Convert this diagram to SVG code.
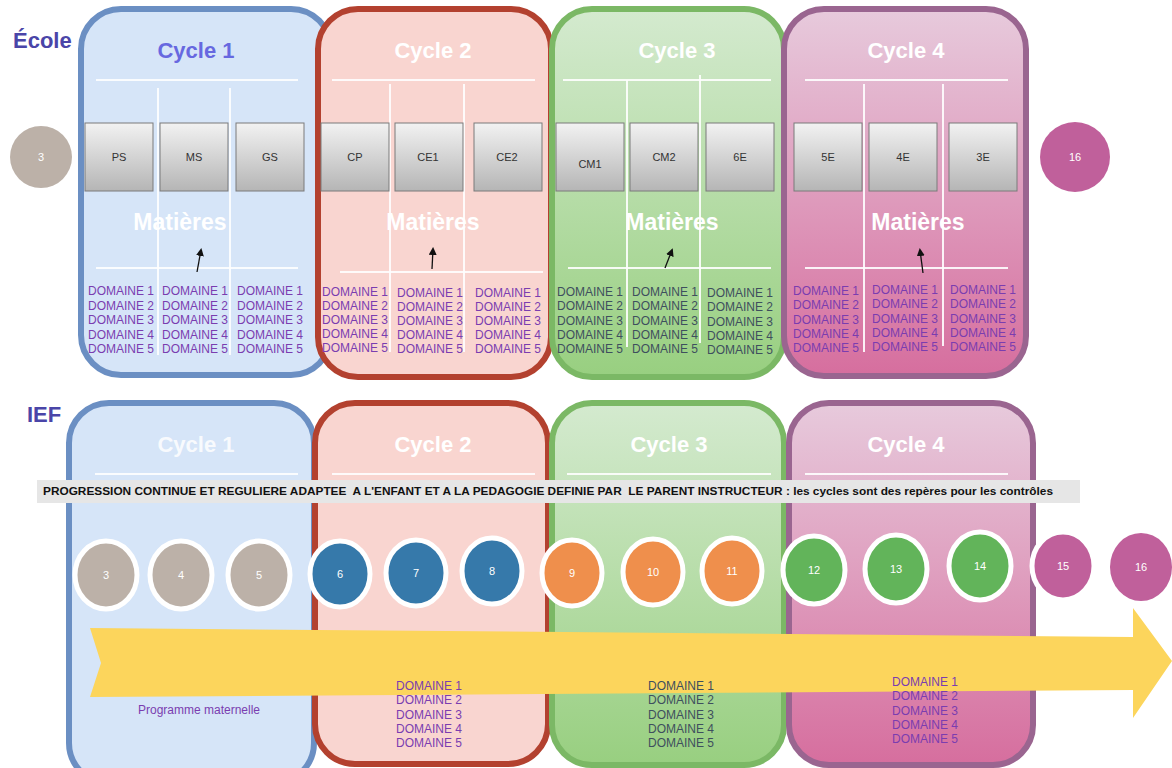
<svg xmlns="http://www.w3.org/2000/svg" width="1172" height="768" viewBox="0 0 1172 768">
<defs>
<linearGradient id="gbox" x1="0" y1="0" x2="0" y2="1"><stop offset="0" stop-color="#f2f2f2"/><stop offset="1" stop-color="#b5b5b5"/></linearGradient>
<linearGradient id="g3" x1="0" y1="0" x2="0" y2="1"><stop offset="0" stop-color="#d4eacf"/><stop offset="1" stop-color="#98cf80"/></linearGradient>
<linearGradient id="g4" x1="0" y1="0" x2="0" y2="1"><stop offset="0" stop-color="#e7cadc"/><stop offset="1" stop-color="#d66e9e"/></linearGradient>
<marker id="ah" markerWidth="8" markerHeight="8" refX="6" refY="4" orient="auto" markerUnits="userSpaceOnUse"><path d="M0,0 L8,4 L0,8 Z" fill="#111"/></marker>
<style>
.p1{fill:#d6e5f8;stroke:#6b8fc3;stroke-width:6}
.p2{fill:#f9d5d0;stroke:#b3412f;stroke-width:6}
.p3{fill:url(#g3);stroke:#7bb865;stroke-width:6}
.p4{fill:url(#g4);stroke:#9a6590;stroke-width:6}
.wl{stroke:#ffffff;stroke-width:2;opacity:0.9}
.title{font-family:"Liberation Sans",Arial,sans-serif;font-weight:bold;font-size:22px;fill:#ffffff;text-anchor:middle}
.mat{font-family:"Liberation Sans",Arial,sans-serif;font-weight:bold;font-size:23px;fill:#ffffff;text-anchor:middle}
.box{fill:url(#gbox);stroke:#7a7a7a;stroke-width:1}
.bt{font-family:"Liberation Sans",Arial,sans-serif;font-size:11px;fill:#333;text-anchor:middle}
.dom{font-family:"Liberation Sans",Arial,sans-serif;font-size:12px;fill:#7a3db0}
.domg{font-family:"Liberation Sans",Arial,sans-serif;font-size:12px;fill:#3e4f5e}
.ct{font-family:"Liberation Sans",Arial,sans-serif;font-size:11px;fill:#ffffff;text-anchor:middle}
.lab{font-family:"Liberation Sans",Arial,sans-serif;font-weight:bold;font-size:22px;fill:#4a45a8}
.arr{stroke:#111;stroke-width:1.3;fill:none;marker-end:url(#ah)}
.cw{stroke:#ffffff;stroke-width:5}
</style>
</defs>
<rect width="1172" height="768" fill="#ffffff"/>

<text class="lab" x="13" y="48">École</text>
<text class="lab" x="27" y="422">IEF</text>

<!-- TOP ROW -->
<g id="ecole-cycle1">
<rect class="p1" x="81" y="9" width="250" height="366" rx="40"/>
<text class="title" x="196" y="58" style="fill:#6768e0">Cycle 1</text>
<line class="wl" x1="96" y1="80" x2="298" y2="80"/>
<line class="wl" x1="158" y1="88" x2="158" y2="355"/>
<line class="wl" x1="230" y1="88" x2="230" y2="355"/>
<line class="wl" x1="96" y1="268" x2="298" y2="268"/>
<text class="mat" x="180" y="230">Matières</text>
<line class="arr" x1="197" y1="272" x2="201" y2="250"/>
</g>
<g id="ecole-cycle2">
<rect class="p2" x="318" y="9" width="233" height="368" rx="40"/>
<text class="title" x="433" y="58">Cycle 2</text>
<line class="wl" x1="332" y1="80" x2="535" y2="80"/>
<line class="wl" x1="390" y1="84" x2="390" y2="352"/>
<line class="wl" x1="464" y1="84" x2="464" y2="352"/>
<line class="wl" x1="340" y1="272" x2="543" y2="272"/>
<text class="mat" x="433" y="230">Matières</text>
<line class="arr" x1="432" y1="269" x2="433" y2="249"/>
</g>
<g id="ecole-cycle3">
<rect class="p3" x="552" y="9" width="232" height="368" rx="40"/>
<text class="title" x="677" y="58">Cycle 3</text>
<line class="wl" x1="563" y1="80" x2="771" y2="80"/>
<line class="wl" x1="627" y1="80" x2="627" y2="347"/>
<line class="wl" x1="700" y1="75" x2="700" y2="343"/>
<line class="wl" x1="568" y1="268" x2="771" y2="268"/>
<text class="mat" x="672" y="230">Matières</text>
<line class="arr" x1="665" y1="268" x2="672" y2="250"/>
</g>
<g id="ecole-cycle4">
<rect class="p4" x="784" y="9" width="242" height="367" rx="40"/>
<text class="title" x="906" y="58">Cycle 4</text>
<line class="wl" x1="805" y1="80" x2="1008" y2="80"/>
<line class="wl" x1="864" y1="84" x2="864" y2="352"/>
<line class="wl" x1="943" y1="84" x2="943" y2="346"/>
<line class="wl" x1="805" y1="268" x2="1008" y2="268"/>
<text class="mat" x="918" y="230">Matières</text>
<line class="arr" x1="923" y1="273" x2="920" y2="250"/>
</g>

<!-- grade boxes -->
<g id="PS"><rect class="box" x="85" y="123" width="68" height="68"/><text class="bt" x="119" y="161">PS</text></g>
<g id="MS"><rect class="box" x="160" y="123" width="68" height="68"/><text class="bt" x="194" y="161">MS</text></g>
<g id="GS"><rect class="box" x="236" y="123" width="68" height="68"/><text class="bt" x="270" y="161">GS</text></g>
<g id="CP"><rect class="box" x="321" y="123" width="68" height="68"/><text class="bt" x="355" y="161">CP</text></g>
<g id="CE1"><rect class="box" x="395" y="123" width="68" height="68"/><text class="bt" x="428" y="161">CE1</text></g>
<g id="CE2"><rect class="box" x="474" y="123" width="68" height="68"/><text class="bt" x="507" y="161">CE2</text></g>
<g id="CM1"><rect class="box" x="556" y="123" width="68" height="68"/><text class="bt" x="590" y="168">CM1</text></g>
<g id="CM2"><rect class="box" x="630" y="123" width="68" height="68"/><text class="bt" x="664" y="161">CM2</text></g>
<g id="6E"><rect class="box" x="706" y="123" width="68" height="68"/><text class="bt" x="740" y="161">6E</text></g>
<g id="5E"><rect class="box" x="794" y="123" width="68" height="68"/><text class="bt" x="828" y="161">5E</text></g>
<g id="4E"><rect class="box" x="869" y="123" width="68" height="68"/><text class="bt" x="903" y="161">4E</text></g>
<g id="3E"><rect class="box" x="949" y="123" width="68" height="68"/><text class="bt" x="983" y="161">3E</text></g>

<!-- domain lists top -->
<g id="dom-c1">
<text class="dom" x="88" y="295"><tspan x="88" dy="0">DOMAINE 1</tspan><tspan x="88" dy="14.5">DOMAINE 2</tspan><tspan x="88" dy="14.5">DOMAINE 3</tspan><tspan x="88" dy="14.5">DOMAINE 4</tspan><tspan x="88" dy="14.5">DOMAINE 5</tspan></text>
<text class="dom" x="162" y="295"><tspan x="162" dy="0">DOMAINE 1</tspan><tspan x="162" dy="14.5">DOMAINE 2</tspan><tspan x="162" dy="14.5">DOMAINE 3</tspan><tspan x="162" dy="14.5">DOMAINE 4</tspan><tspan x="162" dy="14.5">DOMAINE 5</tspan></text>
<text class="dom" x="237" y="295"><tspan x="237" dy="0">DOMAINE 1</tspan><tspan x="237" dy="14.5">DOMAINE 2</tspan><tspan x="237" dy="14.5">DOMAINE 3</tspan><tspan x="237" dy="14.5">DOMAINE 4</tspan><tspan x="237" dy="14.5">DOMAINE 5</tspan></text>
</g>
<g id="dom-c2">
<text class="dom" x="322" y="296"><tspan x="322" dy="0">DOMAINE 1</tspan><tspan x="322" dy="14">DOMAINE 2</tspan><tspan x="322" dy="14">DOMAINE 3</tspan><tspan x="322" dy="14">DOMAINE 4</tspan><tspan x="322" dy="14">DOMAINE 5</tspan></text>
<text class="dom" x="397" y="297"><tspan x="397" dy="0">DOMAINE 1</tspan><tspan x="397" dy="14">DOMAINE 2</tspan><tspan x="397" dy="14">DOMAINE 3</tspan><tspan x="397" dy="14">DOMAINE 4</tspan><tspan x="397" dy="14">DOMAINE 5</tspan></text>
<text class="dom" x="475" y="297"><tspan x="475" dy="0">DOMAINE 1</tspan><tspan x="475" dy="14">DOMAINE 2</tspan><tspan x="475" dy="14">DOMAINE 3</tspan><tspan x="475" dy="14">DOMAINE 4</tspan><tspan x="475" dy="14">DOMAINE 5</tspan></text>
</g>
<g id="dom-c3">
<text class="domg" x="557" y="296"><tspan x="557" dy="0">DOMAINE 1</tspan><tspan x="557" dy="14.3">DOMAINE 2</tspan><tspan x="557" dy="14.3">DOMAINE 3</tspan><tspan x="557" dy="14.3">DOMAINE 4</tspan><tspan x="557" dy="14.3">DOMAINE 5</tspan></text>
<text class="domg" x="632" y="296"><tspan x="632" dy="0">DOMAINE 1</tspan><tspan x="632" dy="14.3">DOMAINE 2</tspan><tspan x="632" dy="14.3">DOMAINE 3</tspan><tspan x="632" dy="14.3">DOMAINE 4</tspan><tspan x="632" dy="14.3">DOMAINE 5</tspan></text>
<text class="domg" x="707" y="297"><tspan x="707" dy="0">DOMAINE 1</tspan><tspan x="707" dy="14.3">DOMAINE 2</tspan><tspan x="707" dy="14.3">DOMAINE 3</tspan><tspan x="707" dy="14.3">DOMAINE 4</tspan><tspan x="707" dy="14.3">DOMAINE 5</tspan></text>
</g>
<g id="dom-c4">
<text class="dom" x="793" y="295"><tspan x="793" dy="0">DOMAINE 1</tspan><tspan x="793" dy="14.3">DOMAINE 2</tspan><tspan x="793" dy="14.3">DOMAINE 3</tspan><tspan x="793" dy="14.3">DOMAINE 4</tspan><tspan x="793" dy="14.3">DOMAINE 5</tspan></text>
<text class="dom" x="872" y="294"><tspan x="872" dy="0">DOMAINE 1</tspan><tspan x="872" dy="14.3">DOMAINE 2</tspan><tspan x="872" dy="14.3">DOMAINE 3</tspan><tspan x="872" dy="14.3">DOMAINE 4</tspan><tspan x="872" dy="14.3">DOMAINE 5</tspan></text>
<text class="dom" x="950" y="294"><tspan x="950" dy="0">DOMAINE 1</tspan><tspan x="950" dy="14.3">DOMAINE 2</tspan><tspan x="950" dy="14.3">DOMAINE 3</tspan><tspan x="950" dy="14.3">DOMAINE 4</tspan><tspan x="950" dy="14.3">DOMAINE 5</tspan></text>
</g>

<g id="top-age3"><circle cx="41" cy="157" r="31" fill="#bcb1a8"/><text class="ct" x="41" y="161">3</text></g>
<g id="top-age16"><circle cx="1075" cy="157" r="35" fill="#c0609b"/><text class="ct" x="1075" y="161">16</text></g>

<!-- BOTTOM ROW -->
<g id="ief-cycle1">
<rect class="p1" x="69" y="403" width="245" height="380" rx="40"/>
<text class="title" x="196" y="452" style="fill-opacity:0.85">Cycle 1</text>
<line class="wl" x1="95" y1="474" x2="298" y2="474"/>
</g>
<g id="ief-cycle2">
<rect class="p2" x="315" y="403" width="233" height="361" rx="40"/>
<text class="title" x="433" y="452">Cycle 2</text>
<line class="wl" x1="332" y1="474" x2="535" y2="474"/>
</g>
<g id="ief-cycle3">
<rect class="p3" x="552" y="403" width="232" height="362" rx="40"/>
<text class="title" x="669" y="452">Cycle 3</text>
<line class="wl" x1="567" y1="474" x2="771" y2="474"/>
</g>
<g id="ief-cycle4">
<rect class="p4" x="789" y="403" width="244" height="362" rx="40"/>
<text class="title" x="906" y="452">Cycle 4</text>
<line class="wl" x1="805" y1="474" x2="1008" y2="474"/>
</g>

<g id="banner">
<rect x="37" y="480" width="1043" height="23" fill="#e6e6e6"/>
<text x="43" y="495" xml:space="preserve" style="white-space:pre" font-family="Liberation Sans, Arial, sans-serif" font-size="11" font-weight="bold" fill="#111" textLength="1010" lengthAdjust="spacingAndGlyphs">PROGRESSION CONTINUE ET REGULIERE ADAPTEE  A L'ENFANT ET A LA PEDAGOGIE DEFINIE PAR  LE PARENT INSTRUCTEUR : les cycles sont des repères pour les contrôles</text>
</g>

<g id="ages">
<g id="age3"><ellipse class="cw" cx="106" cy="575" rx="31" ry="34" fill="#bcb1a8"/><text class="ct" x="106" y="579">3</text></g>
<g id="age4"><ellipse class="cw" cx="181" cy="575" rx="31" ry="34" fill="#bcb1a8"/><text class="ct" x="181" y="579">4</text></g>
<g id="age5"><ellipse class="cw" cx="259" cy="575" rx="31" ry="34" fill="#bcb1a8"/><text class="ct" x="259" y="579">5</text></g>
<g id="age6"><ellipse class="cw" cx="340" cy="574" rx="30" ry="33" fill="#3679aa"/><text class="ct" x="340" y="578">6</text></g>
<g id="age7"><ellipse class="cw" cx="416" cy="573" rx="30" ry="33" fill="#3679aa"/><text class="ct" x="416" y="577">7</text></g>
<g id="age8"><ellipse class="cw" cx="492" cy="571" rx="30" ry="33" fill="#3679aa"/><text class="ct" x="492" y="575">8</text></g>
<g id="age9"><ellipse class="cw" cx="572" cy="573" rx="30" ry="33" fill="#ef8f4c"/><text class="ct" x="572" y="577">9</text></g>
<g id="age10"><ellipse class="cw" cx="653" cy="572" rx="30" ry="33" fill="#ef8f4c"/><text class="ct" x="653" y="576">10</text></g>
<g id="age11"><ellipse class="cw" cx="732" cy="571" rx="30" ry="33" fill="#ef8f4c"/><text class="ct" x="732" y="575">11</text></g>
<g id="age12"><ellipse class="cw" cx="814" cy="570" rx="31" ry="34" fill="#62b45a"/><text class="ct" x="814" y="574">12</text></g>
<g id="age13"><ellipse class="cw" cx="896" cy="569" rx="31" ry="34" fill="#62b45a"/><text class="ct" x="896" y="573">13</text></g>
<g id="age14"><ellipse class="cw" cx="980" cy="566" rx="31" ry="34" fill="#62b45a"/><text class="ct" x="980" y="570">14</text></g>
<g id="age15"><ellipse class="cw" cx="1063" cy="566" rx="31" ry="34" fill="#c0609b"/><text class="ct" x="1063" y="570">15</text></g>
<g id="age16"><ellipse cx="1141" cy="567" rx="31" ry="34" fill="#c0609b"/><text class="ct" x="1141" y="571">16</text></g>
</g>

<g id="progress-arrow">
<polygon points="90,628 1133,637 1133,608 1172,661 1133,718 1133,690 90,697 101,663" fill="#fcd55c"/>
</g>

<g id="ief-texts">
<text class="dom" x="199" y="714" text-anchor="middle">Programme maternelle</text>
<text class="dom" x="396" y="690"><tspan x="396" dy="0">DOMAINE 1</tspan><tspan x="396" dy="14.3">DOMAINE 2</tspan><tspan x="396" dy="14.3">DOMAINE 3</tspan><tspan x="396" dy="14.3">DOMAINE 4</tspan><tspan x="396" dy="14.3">DOMAINE 5</tspan></text>
<text class="domg" x="648" y="690"><tspan x="648" dy="0">DOMAINE 1</tspan><tspan x="648" dy="14.3">DOMAINE 2</tspan><tspan x="648" dy="14.3">DOMAINE 3</tspan><tspan x="648" dy="14.3">DOMAINE 4</tspan><tspan x="648" dy="14.3">DOMAINE 5</tspan></text>
<text class="dom" x="892" y="686"><tspan x="892" dy="0">DOMAINE 1</tspan><tspan x="892" dy="14.3">DOMAINE 2</tspan><tspan x="892" dy="14.3">DOMAINE 3</tspan><tspan x="892" dy="14.3">DOMAINE 4</tspan><tspan x="892" dy="14.3">DOMAINE 5</tspan></text>
</g>
</svg>
